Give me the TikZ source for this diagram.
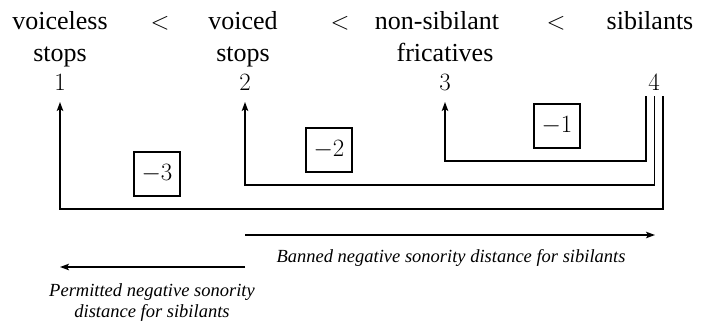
\documentclass[tikz,border=0pt]{standalone}
\usepackage{fontspec}
\setmainfont{Liberation Serif}
\usetikzlibrary{arrows.meta}
\begin{document}
\begin{tikzpicture}[x=1pt,y=-1pt,
  lab/.style={font=\fontsize{26}{30}\selectfont, anchor=base, inner sep=0pt},
  num/.style={font=\fontsize{24}{28}\selectfont, anchor=base, inner sep=0pt},
  box/.style={draw, line width=1.3pt, minimum width=46pt, minimum height=44pt, inner sep=0pt, font=\fontsize{23}{27}\selectfont},
  conn/.style={line width=1.4pt, -{Stealth[length=9pt,width=6.5pt,inset=2pt]}},
  note/.style={font=\fontsize{18.5}{21}\selectfont\itshape, anchor=base, inner sep=0pt, align=center}]
\useasboundingbox (0,0) rectangle (703,322);
% headings
\node[lab] (h1a) at (60,29) {voiceless};
\node[lab] (h1b) at (60,61) {stops};
\node[lab] (lt1) at (160,29) {$<$};
\node[lab] (h2a) at (243,29) {voiced};
\node[lab] (h2b) at (243,61) {stops};
\node[lab] (lt2) at (340,29) {$<$};
\node[lab] (h3a) at (437,29) {non-sibilant};
\node[lab] (h3b) at (445,61) {fricatives};
\node[lab] (lt3) at (556,29) {$<$};
\node[lab] (h4a) at (650,29) {sibilants};
% numbers
\node[num] (n1) at (60,90) {$1$};
\node[num] (n2) at (245,90) {$2$};
\node[num] (n3) at (445,90) {$3$};
\node[num] (n4) at (654,90) {$4$};
% corner coordinates
\coordinate (t1) at (646,96);
\coordinate (t2) at (654.5,96);
\coordinate (t3) at (663,96);
\coordinate (a1) at (445,102);
\coordinate (a2) at (245,102);
\coordinate (a3) at (60,102);
% connectors
\draw[conn] (t1) |- (445,161) -- (a1);
\draw[conn] (t2) |- (245,185) -- (a2);
\draw[conn] (t3) |- (60,209) -- (a3);
% boxes
\node[box] (b1) at (557,126) {$-1$};
\node[box] (b2) at (329,150) {$-2$};
\node[box] (b3) at (157,174) {$-3$};
% bottom arrows
\coordinate (m) at (245,235);
\coordinate (r) at (655,235);
\coordinate (m2) at (245,267);
\coordinate (l) at (60,267);
\draw[conn] (m) -- (r);
\draw[conn] (m2) -- (l);
\node[note] (ban) at (451,262) {Banned negative sonority distance for sibilants};
\node[note, anchor=north] (perm) at (152,283) {Permitted negative sonority\\distance for sibilants};
\end{tikzpicture}
\end{document}
